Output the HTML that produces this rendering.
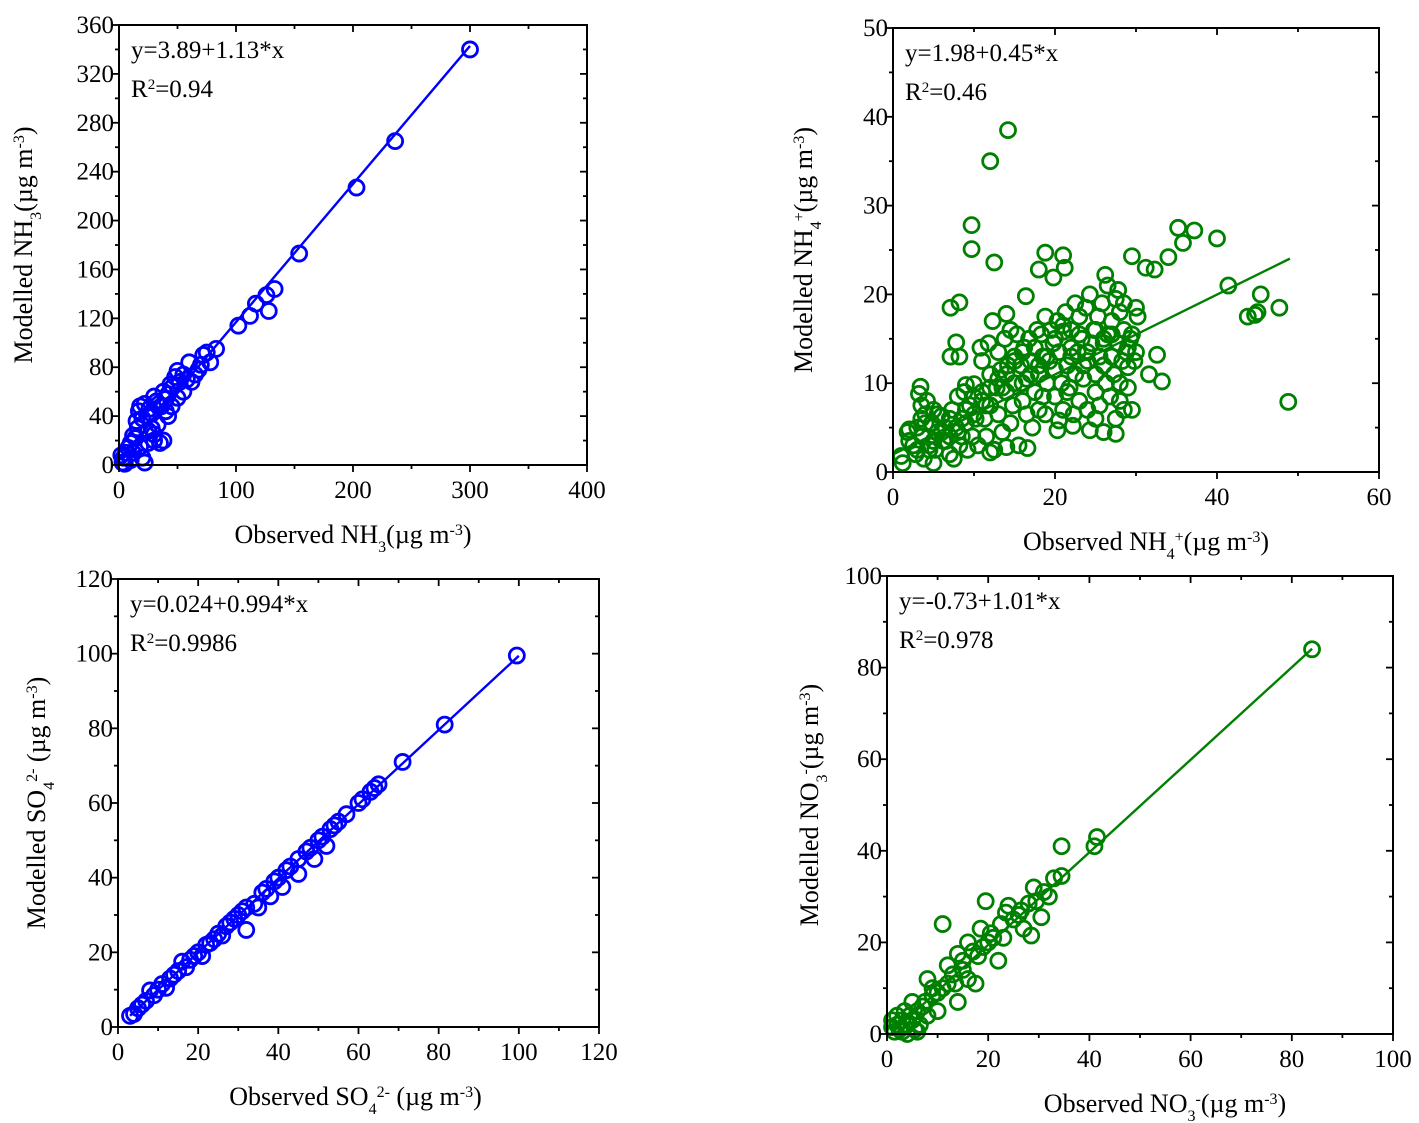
<!DOCTYPE html>
<html><head><meta charset="utf-8"><style>
body{margin:0;background:#fff;}
svg{display:block;font-family:"Liberation Serif",serif;}
</style></head><body>
<svg id="fig" width="1419" height="1123" viewBox="0 0 1419 1123"></svg>
<script>
// ---- Panel data: NH3 ----
const nh3Obs=[300,236,203,154,133,128,126,117,112,102,83,78,75,72,70,60,58,55,52,50,48,46,44,42,40,38,36,34,32,30,28,26,24,22,20,18,17,16,15,14,12,10,8,6,4,3,2,20,22,35,38,30,28,25,33,40,45,50,55,62,65,68,18,12,10,5,25,30,42];
const nh3Mod=[340,265,227,173,144,126,139,132,122,114,95,84,92,90,82,84,70,74,68,77,72,64,66,58,54,60,48,50,52,56,42,46,40,50,38,48,44,30,36,22,24,18,14,10,6,2,8,6,2,18,20,25,30,28,33,44,48,55,60,68,74,78,15,10,4,1,18,20,40];
const nh3Fit=[3.89,1.13];
// ---- Panel data: NH4+ ----
const nh4Obs=[14.2,12,9.7,9.7,12.5,18.8,21,21.2,18,19.8,16.4,8.2,7.1,8.2,7.1,7.8,29.5,31.2,32.3,34,35.2,35.8,37.2,40,41.4,43.8,44.7,45,45.4,47.7,48.8,33.2,32.6,31.6,30,30.2,29.5,26.2,27.8,27.5,24.3,20.3,22.2,16.6,14,12,
1,1.2,1.8,2,2.5,2.8,3,3.2,3.4,3.5,3.6,3.8,4,4.2,4.5,4.8,5,5,5.2,5.5,
6,6.2,6.5,7,7,7.3,7.5,7.8,8,8.2,8.5,8.8,9,9,9.2,9.5,9.8,10,10,10.2,
10.5,10.8,11,11,11.3,11.5,11.8,12,12,12.3,12.5,12.8,13,13,13.3,13.5,13.8,14,14,14.2,14.5,14.5,14.8,15,15,
15.3,15.5,15.8,16,16.2,16.5,16.5,16.8,17,17.2,17.5,17.5,17.8,18,18,18.3,18.5,18.8,18.8,19,19.3,19.5,19.8,20,20,
20.3,20.5,20.5,20.8,21,21,21.3,21.5,21.8,22,22,22.3,22.5,22.5,22.8,23,23,23.3,23.5,23.8,24,24,24.3,24.5,24.8,25,25,
25.3,25.5,25.5,25.8,26,26,26.3,26.5,26.8,27,27,27.3,27.5,27.5,27.8,28,28,28.3,28.5,28.5,28.8,29,29,29.3,29.5,29.8,30,26,25,
2,3,4,5,6,7,8,9,10,11,12,13,14,15,16,17,18,19,20,21,22,23,24,25,26,27,28,29,3.5,4.5,5.5,6.5,8.5,11.5,13.5,16,18.5,21.5,23.5,26.5,28.5];
const nh4Mod=[38.5,35,27.8,25.1,23.6,24.7,24.4,23,22.8,21.9,19.8,19.1,18.5,13,13,14.6,24.3,23,22.8,24.2,27.5,25.8,27.2,26.3,21,17.5,17.7,18,20,18.5,7.9,10.2,13.2,11,18.5,17.5,15.5,22.2,20.5,4.3,4.7,4.7,5.2,2.7,2.8,2.2,
1.8,1,4.5,4.8,3,2,5,8.8,9.6,7.5,4,1.5,6.5,8,3,5.5,7,1,2.5,4.5,
6.3,3.5,5,2,4,7,1.5,5,8.5,3,6,9,9.8,5.5,2.5,7.5,4,8.5,9.9,6,
3,14,9,12.5,6,4,14.5,7.5,11,17,2.5,9.5,13.5,6.5,11.5,4.5,15,9,17.8,12,5.5,16,7.5,13,10,
15.5,3,12,8,14,6.5,10.5,15,12.5,5,9,14,16,11,7,15.5,13,17.5,6.5,10,12.5,16,14.5,8.5,11.5,
17,13.5,5.8,10,15.8,7,18,12,9.5,16,14,6.5,19,11,13.5,17.5,8,15,10.5,18.5,12.5,7,20,14.5,16,9,11,
17.5,13,7.5,19,12,14.5,10,21,8.5,13,17,11,6,19.5,14.5,10,8,12.5,16,7,13.5,9.5,11.8,15,7,12.5,13.5,4.5,6,
3.5,2.5,5.5,3.5,4.5,6,4.5,7,6.5,8,9.5,10.5,11,12.5,13.5,11,12,13,15,16.5,13,15.5,13.5,16,15,15.5,18,14,6,2.5,6.5,3.5,4,7.5,9.5,10,8.5,9,12,15.5,19];
const nh4Fit=[1.98,0.45];
// ---- Panel data: SO4 2- ----
const so4Obs=[3,4,5,6,7,8,9,10,11,12,13,14,15,16,17,18,19,20,21,22,23,24,25,26,27,28,29,30,31,32,32,34,35,36,37,38,39,40,41,42,43,45,45,47,48,49,50,51,52,53,54,55,57,60,61,63,64,65,71,81.5,99.5];
const so4Mod=[3,3.5,5,6,7,9.8,8.5,10,11.5,10.5,13,14,15,17.5,16,18,19,20,19,22,22.5,23.5,25,24.5,27,28,29,30,31,26,32,33,32,36,37,35,39,40,37.5,42,43,41,45,47,48,45,50,51,48.5,53,54,55,57,60,61,63,64,65,71,81,99.5];
const so4Fit=[0.024,0.994];
// ---- Panel data: NO3- ----
const no3Obs=[84,41.5,41,34.5,34.5,33,32,30.5,29,28,28.5,27,26,25,24,23.5,22,22.5,21,20,19.5,18.5,18,17.5,17,16,16,15,14,14,13,12,12,11,11,10,10,9,8,8,7.5,7,6.5,6,5.5,5,5,4.5,4,3.5,3,2.5,2,2,1.5,1,1,3,6,4,19,20.5,23,26.5,29.5,31,15,13.5,9];
const no3Mod=[84,43,41,41,34.5,34,30,25.5,32,28.5,21.5,23,26,25,28,26.5,16,24,21,20,29,23,17,11,18,20,12,16,17.5,7,13,15,11,24,10,9,5,8.5,12,4,7,6,2,5,1,7,3,4,2,5,3,1,4,2,0.5,1.5,3,0.5,0.5,0,19,22,21,27,29,31,14,11,10];
const no3Fit=[-0.73,1.01];

const NS="http://www.w3.org/2000/svg";
const svg=document.getElementById('fig');
function mk(tag,attrs,parent){const e=document.createElementNS(NS,tag);for(const k in attrs)e.setAttribute(k,attrs[k]);(parent||svg).appendChild(e);return e;}

function panel(cfg,obs,mod,fit,fitRange){
  const g=mk('g',{});
  
  
  const sx=v=>cfg.x0+(v-cfg.xmin)/(cfg.xmax-cfg.xmin)*(cfg.x1-cfg.x0);
  const sy=v=>cfg.y0-(v-cfg.ymin)/(cfg.ymax-cfg.ymin)*(cfg.y0-cfg.y1);
  const pg=mk('g',{},g);
  
  
  for(let i=0;i<obs.length;i++){
    const c=mk('circle',{cx:sx(obs[i]),cy:sy(mod[i]),r:7.5,fill:'none',stroke:cfg.color,'stroke-width':2.8},pg);
    
    
  }
  const l=mk('line',{x1:sx(fitRange[0]),y1:sy(fit[0]+fit[1]*fitRange[0]),x2:sx(fitRange[1]),y2:sy(fit[0]+fit[1]*fitRange[1]),stroke:cfg.color,'stroke-width':2.4},g);
  
  
  const f=mk('rect',{x:cfg.x0,y:cfg.y1,width:cfg.x1-cfg.x0,height:cfg.y0-cfg.y1,fill:'none',stroke:'#000','stroke-width':2},g);
  
  
  const xs=(cfg.xmax-cfg.xmin)/cfg.xn, ys=(cfg.ymax-cfg.ymin)/cfg.yn;
  for(let i=0;i<=cfg.xn*2;i++){
    const v=cfg.xmin+i*xs/2, X=sx(v), maj=i%2==0, L=maj?7:4;
    mk('line',{x1:X,y1:cfg.y0,x2:X,y2:cfg.y0+L,stroke:'#000','stroke-width':1.8},g);
    mk('line',{x1:X,y1:cfg.y1,x2:X,y2:cfg.y1+L,stroke:'#000','stroke-width':1.8},g);
    if(maj){const t=mk('text',{x:X,y:cfg.y0+33,'text-anchor':'middle','font-size':25},g);t.textContent=String(Math.round(v));
      }
  }
  for(let i=0;i<=cfg.yn*2;i++){
    const v=cfg.ymin+i*ys/2, Y=sy(v), maj=i%2==0, L=maj?7:4;
    mk('line',{x1:cfg.x0,y1:Y,x2:cfg.x0-L,y2:Y,stroke:'#000','stroke-width':1.8},g);
    mk('line',{x1:cfg.x1,y1:Y,x2:cfg.x1-L,y2:Y,stroke:'#000','stroke-width':1.8},g);
    if(maj){const t=mk('text',{x:cfg.x0-5,y:Y+8,'text-anchor':'end','font-size':25},g);t.textContent=String(Math.round(v));
      }
  }
  const a1=mk('text',{x:cfg.x0+12,y:cfg.y1+33,'font-size':25},g);a1.textContent=cfg.eq;
  
  const a2=mk('text',{x:cfg.x0+12,y:cfg.y1+72,'font-size':25},g);
  a2.innerHTML='R<tspan baseline-shift="super" font-size="15">2</tspan>'+cfg.r2;
  
  const xt=mk('text',{x:(cfg.x0+cfg.x1)/2+cfg.xtOff,y:cfg.y0+78,'text-anchor':'middle','font-size':26},g);
  xt.innerHTML=cfg.xt;
  const cy=(cfg.y0+cfg.y1)/2;
  const yt=mk('text',{x:0,y:0,'text-anchor':'middle','font-size':26,transform:`translate(${cfg.ytx},${cy}) rotate(-90)`},g);
  yt.innerHTML=cfg.yt;
}
const sub=s=>`<tspan baseline-shift="sub" font-size="16">${s}</tspan>`;
const sup=s=>`<tspan baseline-shift="super" font-size="16">${s}</tspan>`;
const ss=(a,b)=>`<tspan baseline-shift="sub" font-size="16">${a}</tspan><tspan baseline-shift="super" font-size="16">${b}</tspan>`;
panel({name:'panel-nh3',x0:119,x1:587,y0:465,y1:25,xmin:0,xmax:400,xn:4,ymin:0,ymax:360,yn:9,color:'#0000ff',
  eq:'y=3.89+1.13*x',r2:'=0.94',xt:'Observed NH'+sub('3')+'(µg m'+sup('-3')+')',xtOff:0,
  yt:'Modelled NH'+sub('3')+'(µg m'+sup('-3')+')',ytx:32},nh3Obs,nh3Mod,nh3Fit,[0,300]);
panel({name:'panel-nh4',x0:893,x1:1379,y0:472,y1:28,xmin:0,xmax:60,xn:3,ymin:0,ymax:50,yn:5,color:'#008000',
  eq:'y=1.98+0.45*x',r2:'=0.46',xt:'Observed NH'+ss('4','+')+'(µg m'+sup('-3')+')',xtOff:10,
  yt:'Modelled NH'+ss('4','+')+'(µg m'+sup('-3')+')',ytx:812},nh4Obs,nh4Mod,nh4Fit,[0,49]);
panel({name:'panel-so4',x0:118,x1:599,y0:1027,y1:579,xmin:0,xmax:120,xn:6,ymin:0,ymax:120,yn:6,color:'#0000ff',
  eq:'y=0.024+0.994*x',r2:'=0.9986',xt:'Observed SO'+ss('4','2-')+' (µg m'+sup('-3')+')',xtOff:-3,
  yt:'Modelled SO'+ss('4','2-')+' (µg m'+sup('-3')+')',ytx:45},so4Obs,so4Mod,so4Fit,[3,100]);
panel({name:'panel-no3',x0:887,x1:1393,y0:1034,y1:576,xmin:0,xmax:100,xn:5,ymin:0,ymax:100,yn:5,color:'#008000',
  eq:'y=-0.73+1.01*x',r2:'=0.978',xt:'Observed NO'+ss('3','-')+'(µg m'+sup('-3')+')',xtOff:25,
  yt:'Modelled NO'+ss('3','-')+'(µg m'+sup('-3')+')',ytx:818},no3Obs,no3Mod,no3Fit,[0,84]);
</script>
</body></html>
